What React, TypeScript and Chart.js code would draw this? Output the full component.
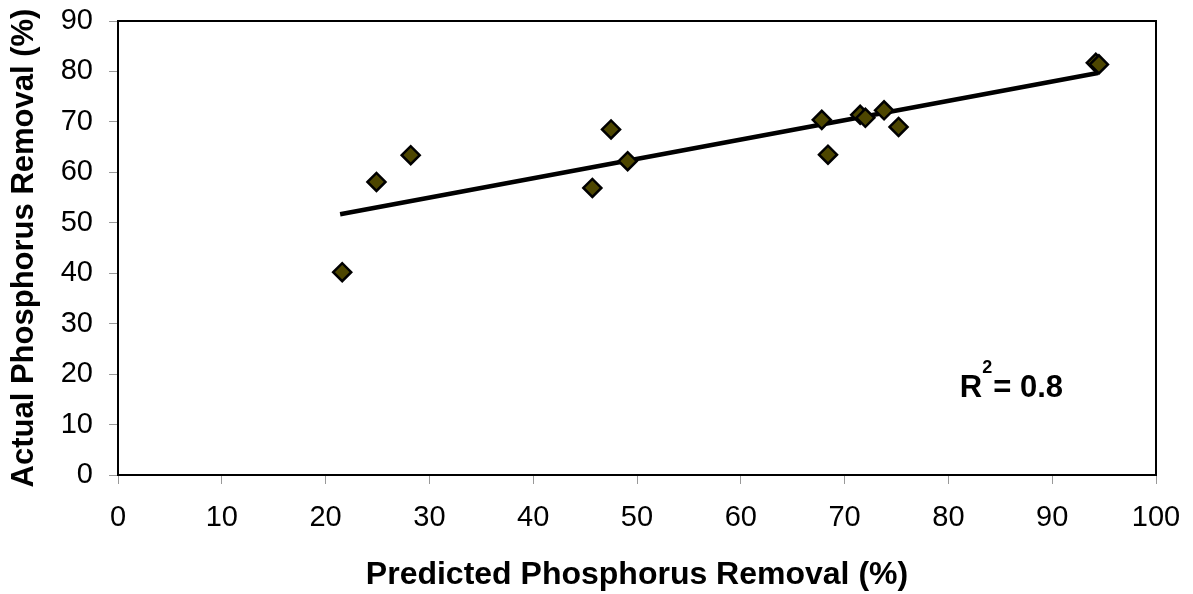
import React, { useEffect, useRef } from "react";
import { Chart, registerables } from "chart.js";

Chart.register(...registerables);

// Predicted vs actual phosphorus removal (%)
const predicted = [21.6, 24.9, 28.2, 45.7, 47.5, 49.1, 67.8, 68.4, 71.5, 72.0, 73.8, 75.2, 94.2, 94.5];
const actual = [40.2, 58.1, 63.4, 56.9, 68.5, 62.2, 70.4, 63.5, 71.4, 70.8, 72.3, 69.0, 81.7, 81.4];

// Trend line endpoints
const trendX = [21.4, 94.4];
const trendY = [51.7, 79.7];

// Annotation
const r2Value = "0.8";
const r2Pos = { x: 81.1, y: 15.5 };

const xTitle = "Predicted Phosphorus Removal (%)";
const yTitle = "Actual Phosphorus Removal (%)";

const FONT = "'Liberation Sans', Arial, sans-serif";

export default function App() {
  const ref = useRef<HTMLCanvasElement | null>(null);

  useEffect(() => {
    document.body.style.margin = "0";
    const canvas = ref.current;
    if (!canvas) return;

    const framePlugin = {
      id: "frame",
      beforeDatasetsDraw(chart: any) {
        const { ctx, chartArea } = chart;
        ctx.save();
        ctx.strokeStyle = "#000";
        ctx.lineWidth = 2;
        ctx.strokeRect(chartArea.left, chartArea.top, chartArea.right - chartArea.left, chartArea.bottom - chartArea.top);
        ctx.restore();
      },
      afterDatasetsDraw(chart: any) {
        const { ctx, scales } = chart;
        const px = scales.x.getPixelForValue(r2Pos.x);
        const py = scales.y.getPixelForValue(r2Pos.y);
        ctx.save();
        ctx.fillStyle = "#000";
        ctx.textBaseline = "alphabetic";
        ctx.textAlign = "left";
        ctx.font = `bold 31px ${FONT}`;
        ctx.fillText("R", px, py);
        const rw = ctx.measureText("R").width;
        ctx.font = `bold 18px ${FONT}`;
        ctx.fillText("2", px + rw, py - 24);
        const sw = ctx.measureText("2").width;
        ctx.font = `bold 31px ${FONT}`;
        ctx.fillText("= " + r2Value, px + rw + sw + 1, py);
        ctx.restore();
      },
    };

    const chart = new Chart(canvas, {
      type: "scatter",
      data: {
        datasets: [
          {
            label: "Data",
            data: predicted.map((v, i) => ({ x: v, y: actual[i] })),
            pointStyle: "rectRot",
            pointRadius: 9,
            pointBackgroundColor: "#4d4600",
            pointBorderColor: "#000",
            pointBorderWidth: 2.5,
            order: 0,
          },
          {
            label: "Trend",
            data: trendX.map((v, i) => ({ x: v, y: trendY[i] })),
            showLine: true,
            borderColor: "#000",
            borderWidth: 4.5,
            pointRadius: 0,
            order: 1,
          },
        ],
      },
      options: {
        responsive: false,
        animation: false,
        devicePixelRatio: 1,
        layout: { padding: { left: 0, top: 21, right: 37, bottom: 0 } },
        plugins: { legend: { display: false }, tooltip: { enabled: false } },
        scales: {
          x: {
            type: "linear",
            min: 0,
            max: 100,
            ticks: { stepSize: 10, color: "#000", padding: 17, font: { family: FONT, size: 29 } },
            grid: { display: true, drawOnChartArea: false, drawTicks: true, tickLength: 9, tickColor: "#999" },
            border: { display: false },
            title: { display: true, text: xTitle, color: "#000", padding: { top: 0, bottom: 0 }, font: { family: FONT, size: 32, weight: "bold" } },
            afterFit(scale: any) {
              scale.height = 119;
              scale.paddingLeft = 0;
              scale.paddingRight = 0;
            },
          },
          y: {
            type: "linear",
            min: 0,
            max: 90,
            ticks: { stepSize: 10, color: "#000", padding: 16, font: { family: FONT, size: 29 } },
            grid: { display: true, drawOnChartArea: false, drawTicks: true, tickLength: 9, tickColor: "#999" },
            border: { display: false },
            title: { display: true, text: yTitle, color: "#000", padding: { top: 6, bottom: 0 }, font: { family: FONT, size: 31, weight: "bold" } },
            afterFit(scale: any) {
              scale.width = 118;
              scale.paddingTop = 0;
              scale.paddingBottom = 0;
            },
          },
        },
      },
      plugins: [framePlugin],
    } as any);

    return () => chart.destroy();
  }, []);

  return (
    <div style={{ width: 1193, height: 594, background: "#fff" }}>
      <canvas ref={ref} width={1193} height={594} style={{ display: "block" }} />
    </div>
  );
}
